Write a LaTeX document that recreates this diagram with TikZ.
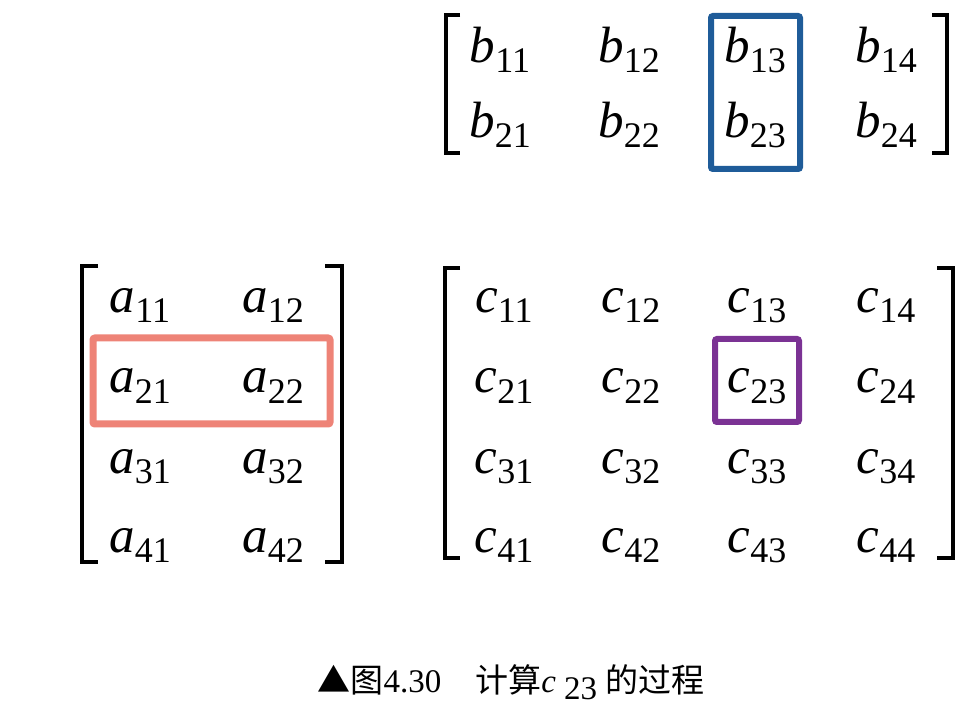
\documentclass[tikz,border=0pt]{standalone}
\usepackage{fontspec}
\setmainfont{Liberation Serif}
\newfontfamily\cjk{Noto Sans CJK SC}
\usepackage{tikz}
\usetikzlibrary{calc}
\usetikzlibrary{positioning}
\definecolor{rowred}{HTML}{EE8377}
\definecolor{colblue}{HTML}{1F5C99}
\definecolor{cellpurple}{HTML}{7B3294}
\newcommand{\ent}[2]{\textit{#1}\raisebox{-10pt}{\fontsize{36}{36}\selectfont #2}}
\tikzset{elem/.style={anchor=base, inner sep=0pt, font=\fontsize{51}{51}\selectfont}}
\tikzset{brk/.style={line width=4pt}}

\begin{document}
\begin{tikzpicture}[x=1pt, y=-1pt]
\tikzstyle{hibox} = [line width=6pt, rounded corners=2pt]
\useasboundingbox (0, 0) rectangle (980, 708);
% matrix B
\node[elem](b11) at (500, 63){\ent{b}{11}};
\node[elem](b12) at (629, 63){\ent{b}{12}};
\node[elem](b13) at (755, 63){\ent{b}{13}};
\node[elem](b14) at (886, 63){\ent{b}{14}};
\node[elem](b21) at (500, 138){\ent{b}{21}};
\node[elem](b22) at (629, 138){\ent{b}{22}};
\node[elem](b23) at (755, 138){\ent{b}{23}};
\node[elem](b24) at (886, 138){\ent{b}{24}};
\draw[brk] (460, 15) -- (446, 15) -- (446, 153) -- (460, 153);
\draw[brk] (932, 15) -- (947, 15) -- (947, 153) -- (932, 153);
\draw[hibox, colblue] (711, 16) rectangle (800, 169);
% matrix A
\node[elem](a11) at (140, 313){\ent{a}{11}};
\node[elem](a12) at (273, 313){\ent{a}{12}};
\node[elem](a21) at (140, 393){\ent{a}{21}};
\node[elem](a22) at (273, 393){\ent{a}{22}};
\node[elem](a31) at (140, 473){\ent{a}{31}};
\node[elem](a32) at (273, 473){\ent{a}{32}};
\node[elem](a41) at (140, 552){\ent{a}{41}};
\node[elem](a42) at (273, 552){\ent{a}{42}};
\draw[brk] (98, 266) -- (82, 266) -- (82, 562) -- (98, 562);
\draw[brk] (325, 266) -- (342, 266) -- (342, 562) -- (325, 562);
\draw[hibox, rowred, line width=7pt] (93, 338) rectangle (330, 424);
% matrix C
\node[elem](c11) at (504, 313){\ent{c}{11}};
\node[elem](c12) at (631, 313){\ent{c}{12}};
\node[elem](c13) at (757, 313){\ent{c}{13}};
\node[elem](c14) at (886, 313){\ent{c}{14}};
\node[elem](c21) at (504, 393){\ent{c}{21}};
\node[elem](c22) at (631, 393){\ent{c}{22}};
\node[elem](c23) at (757, 393){\ent{c}{23}};
\node[elem](c24) at (886, 393){\ent{c}{24}};
\node[elem](c31) at (504, 473){\ent{c}{31}};
\node[elem](c32) at (631, 473){\ent{c}{32}};
\node[elem](c33) at (757, 473){\ent{c}{33}};
\node[elem](c34) at (886, 473){\ent{c}{34}};
\node[elem](c41) at (504, 552){\ent{c}{41}};
\node[elem](c42) at (631, 552){\ent{c}{42}};
\node[elem](c43) at (757, 552){\ent{c}{43}};
\node[elem](c44) at (886, 552){\ent{c}{44}};
\draw[brk] (460, 268) -- (445, 268) -- (445, 558) -- (460, 558);
\draw[brk] (937, 268) -- (953, 268) -- (953, 558) -- (937, 558);
\draw[hibox, cellpurple] (715, 339) rectangle (799, 422);
% caption
\node[anchor=base, inner sep=0pt, font=\fontsize{33}{33}\selectfont](cap) at (511, 692)
  {{\cjk ▲图}4.30\hspace{34pt}{\cjk 计算}\textit{c}\ \raisebox{-7pt}{23}\ {\cjk 的过程}};
\end{tikzpicture}
\end{document}
